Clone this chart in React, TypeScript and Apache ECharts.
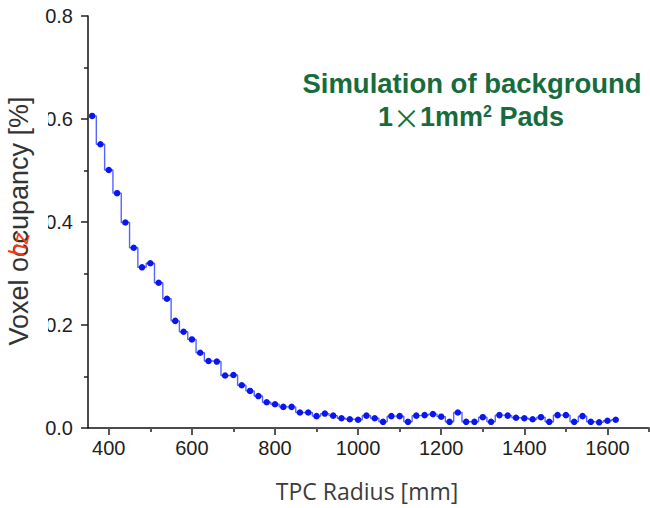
import React, { useEffect, useRef } from "react";
import * as echarts from "echarts";

const radiusMm = [
  360, 380, 400, 420, 440, 460, 480, 500, 520, 540, 560, 580, 600, 620, 640, 660,
  680, 700, 720, 740, 760, 780, 800, 820, 840, 860, 880, 900, 920, 940, 960, 980,
  1000, 1020, 1040, 1060, 1080, 1100, 1120, 1140, 1160, 1180, 1200, 1220, 1240, 1260, 1280, 1300,
  1320, 1340, 1360, 1380, 1400, 1420, 1440, 1460, 1480, 1500, 1520, 1540, 1560, 1580, 1600, 1620,
];
const occupancy = [
  0.606, 0.551, 0.501, 0.456, 0.399, 0.35, 0.312, 0.32, 0.282, 0.251, 0.208, 0.187, 0.172, 0.146, 0.13, 0.129,
  0.102, 0.103, 0.083, 0.072, 0.062, 0.05, 0.046, 0.041, 0.041, 0.03, 0.03, 0.023, 0.028, 0.024, 0.019, 0.017,
  0.016, 0.024, 0.019, 0.012, 0.023, 0.023, 0.012, 0.024, 0.025, 0.027, 0.022, 0.012, 0.03, 0.012, 0.012, 0.021,
  0.012, 0.025, 0.024, 0.02, 0.019, 0.017, 0.021, 0.012, 0.025, 0.025, 0.012, 0.023, 0.012, 0.011, 0.014, 0.016,
];
const xMajorTicks = [400, 600, 800, 1000, 1200, 1400, 1600];
const xMinorTicks = [500, 700, 900, 1100, 1300, 1500, 1700];
const xRange = [350, 1700];
const yRange = [0, 0.8];
const yStep = 0.2;

const titleLine1 = "Simulation of background";
const xName = "TPC Radius [mm]";
const yName = "Voxel occupancy [%]";

export default function App() {
  const ref = useRef<HTMLDivElement>(null);
  useEffect(() => {
    if (!ref.current) return;
    const chart = echarts.init(ref.current, undefined, { renderer: "svg" });
    const data = radiusMm.map((r, i) => [r, occupancy[i]]);
    const green = "#186b3c";
    const arial = "Liberation Sans, Arial, sans-serif";
    chart.setOption({
      animation: false,
      backgroundColor: "#ffffff",
      grid: { left: 88, right: 1, top: 16, bottom: 80, containLabel: false, outerBoundsMode: "none" },
      xAxis: [
        {
          type: "value",
          min: xRange[0],
          max: xRange[1],
          axisLine: { show: true, lineStyle: { color: "#111", width: 1.5 } },
          axisTick: { show: true, customValues: xMajorTicks, length: 7, lineStyle: { color: "#555", width: 2 } },
          axisLabel: {
            customValues: xMajorTicks,
            formatter: (v: number) => String(v),
            fontFamily: arial,
            fontSize: 20,
            color: "#1e1e1e",
            margin: 10,
          },
          splitLine: { show: false },
        },
        {
          type: "value",
          min: xRange[0],
          max: xRange[1],
          position: "bottom",
          axisLine: { show: false },
          axisTick: { show: true, customValues: xMinorTicks, length: 4, lineStyle: { color: "#555", width: 2 } },
          axisLabel: { show: false },
          splitLine: { show: false },
        },
      ],
      yAxis: {
        type: "value",
        min: yRange[0],
        max: yRange[1],
        interval: yStep,
        axisLine: { show: true, lineStyle: { color: "#111", width: 1.5 } },
        axisTick: { show: true, length: 7, lineStyle: { color: "#222", width: 1.5 } },
        minorTick: { show: true, splitNumber: 2, length: 4, lineStyle: { color: "#222", width: 1.5 } },
        axisLabel: {
          formatter: (v: number) => v.toFixed(1),
          fontFamily: arial,
          fontSize: 20,
          color: "#1e1e1e",
          margin: 15,
        },
        splitLine: { show: false },
        minorSplitLine: { show: false },
      },
      series: [
        {
          type: "line",
          data,
          step: "middle",
          xAxisIndex: 0,
          yAxisIndex: 0,
          symbol: "circle",
          symbolSize: 6.5,
          showSymbol: true,
          itemStyle: { color: "#0b16ee" },
          lineStyle: { color: "#5564ff", width: 1.4 },
        },
      ],
      graphic: [
        {
          type: "rect",
          z: 100,
          shape: { x: 0, y: 92, width: 48, height: 260 },
          style: { fill: "#ffffff" },
        },
        {
          type: "text",
          z: 101,
          x: 19,
          y: 221,
          rotation: Math.PI / 2,
          style: {
            text: yName,
            fontFamily: arial,
            fontSize: 27,
            fill: "#333333",
            textAlign: "center",
            textVerticalAlign: "middle",
          },
        },
        {
          type: "text",
          z: 102,
          x: 19,
          y: 244,
          rotation: Math.PI / 2.4,
          style: {
            text: "hz",
            fontFamily: arial,
            fontSize: 23,
            fill: "#ff3311",
            textAlign: "center",
            textVerticalAlign: "middle",
          },
        },
        {
          type: "text",
          z: 101,
          x: 367,
          y: 491,
          style: {
            text: xName,
            fontFamily: "Open Sans, Noto Sans, sans-serif",
            fontSize: 23,
            fill: "#3c3c3c",
            textAlign: "center",
            textVerticalAlign: "middle",
          },
        },
        {
          type: "text",
          z: 101,
          x: 472,
          y: 83,
          style: {
            text: titleLine1,
            fontFamily: arial,
            fontWeight: "bold",
            fontSize: 27.5,
            fill: green,
            textAlign: "center",
            textVerticalAlign: "middle",
          },
        },
        {
          type: "text",
          z: 101,
          x: 471,
          y: 117,
          style: {
            text: "{a|1}{x|×}{a|1mm}{s|2}{a| Pads}",
            textAlign: "center",
            textVerticalAlign: "middle",
            rich: {
              a: { fontFamily: arial, fontWeight: "bold", fontSize: 27, fill: green, color: green },
              x: { fontFamily: "Noto Sans CJK SC, sans-serif", fontWeight: "normal", fontSize: 27, fill: green, color: green },
              s: { fontFamily: arial, fontWeight: "bold", fontSize: 16, fill: green, color: green, verticalAlign: "top", padding: [0, 0, 10, 0] },
            },
          },
        },
      ],
    });
    return () => chart.dispose();
  }, []);
  return (
    <div
      ref={ref}
      style={{ position: "fixed", left: 0, top: 0, width: 650, height: 508, background: "#fff" }}
    />
  );
}
